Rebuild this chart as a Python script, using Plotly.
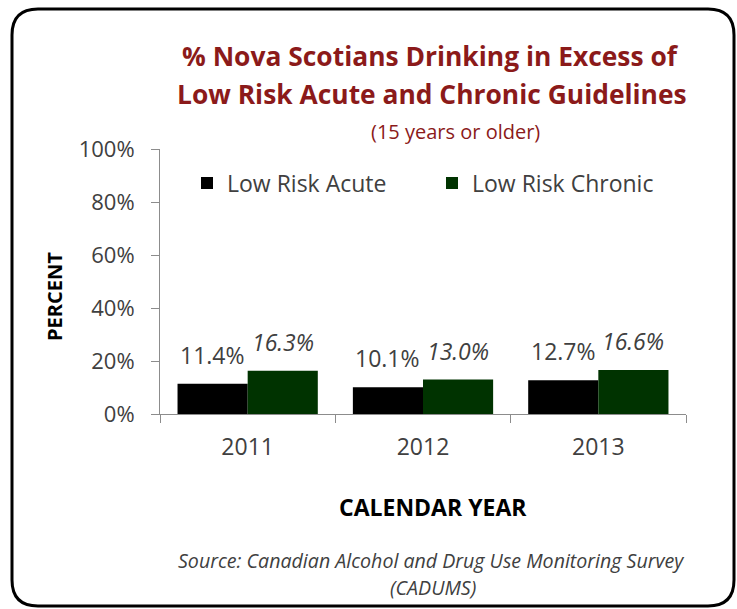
import plotly.graph_objects as go

years = ["2011", "2012", "2013"]
acute = [11.4, 10.1, 12.7]
chronic = [16.3, 13.0, 16.6]
acute_labels = ["11.4%", "10.1%", "12.7%"]
chronic_labels = ["16.3%", "13.0%", "16.6%"]
y_ticks = [0, 20, 40, 60, 80, 100]
y_tick_labels = ["0%", "20%", "40%", "60%", "80%", "100%"]

W, H = 737, 609
ML, MR, MT, MB = 160, 51, 149, 195
PW, PH = W - ML - MR, H - MT - MB

def px(x):
    return (x - ML) / PW

def py(y):
    return (H - MB - y) / PH

FONT = "Open Sans"
TXT = "#404040"
TITLE_C = "#8B1A1A"

fig = go.Figure()
fig.add_trace(go.Bar(x=years, y=acute, name="Low Risk Acute",
                     marker=dict(color="#000000", line=dict(width=0))))
fig.add_trace(go.Bar(x=years, y=chronic, name="Low Risk Chronic",
                     marker=dict(color="#003300", line=dict(width=0))))

annotations = []
for i, (a, c, al, cl) in enumerate(zip(acute, chronic, acute_labels, chronic_labels)):
    annotations.append(dict(x=i - 0.2, y=a, xref="x", yref="y", text=al, showarrow=False,
                            yanchor="bottom", yshift=11,
                            font=dict(family=FONT, size=23, color=TXT)))
    annotations.append(dict(x=i + 0.2, y=c, xref="x", yref="y", text="<i>" + cl + "</i>",
                            showarrow=False, yanchor="bottom", yshift=11,
                            font=dict(family=FONT, size=23, color=TXT)))

def label(x, y, text, size, color, **kw):
    return dict(x=px(x), y=py(y), xref="paper", yref="paper", showarrow=False,
                xanchor="center", yanchor="middle", text=text,
                font=dict(family=FONT, size=size, color=color), **kw)

annotations += [
    label(430, 56, "<b>% Nova Scotians Drinking in Excess of</b>", 26.4, TITLE_C),
    label(432, 94, "<b>Low Risk Acute and Chronic Guidelines</b>", 26.4, TITLE_C),
    label(455, 131, "(15 years or older)", 20, TITLE_C),
    label(54, 297, "<b>PERCENT</b>", 20, "#000000", textangle=-90),
    label(433, 507, "<b>CALENDAR YEAR</b>", 23, "#000000"),
    label(431, 560, "<i>Source: Canadian Alcohol and Drug Use Monitoring Survey</i>", 19.6, TXT),
    label(433, 587, "<i>(CADUMS)</i>", 19.6, TXT),
]

# rounded border
x0, x1, y0, y1, r = px(12), px(734), py(9), py(606), 26
rx, ry = r / PW, r / PH
path = (f"M {x0+rx},{y0} L {x1-rx},{y0} Q {x1},{y0} {x1},{y0-ry} "
        f"L {x1},{y1+ry} Q {x1},{y1} {x1-rx},{y1} "
        f"L {x0+rx},{y1} Q {x0},{y1} {x0},{y1+ry} "
        f"L {x0},{y0-ry} Q {x0},{y0} {x0+rx},{y0} Z")

fig.update_layout(
    width=W, height=H,
    margin=dict(l=ML, r=MR, t=MT, b=MB, pad=0),
    paper_bgcolor="white", plot_bgcolor="white",
    barmode="group", bargap=0.2, bargroupgap=0,
    showlegend=True,
    legend=dict(orientation="h", x=px(187), y=py(183), xanchor="left", yanchor="middle",
                font=dict(family=FONT, size=23, color=TXT), entrywidth=200,
                bgcolor="rgba(0,0,0,0)", itemclick=False),
    annotations=annotations,
    shapes=[dict(type="path", path=path, xref="paper", yref="paper",
                 line=dict(color="black", width=3), layer="above")],
    xaxis=dict(type="category", showline=True, linecolor="#8c8c8c", linewidth=1,
               ticks="outside", tickson="boundaries", ticklen=8, tickcolor="#8c8c8c",
               ticklabelstandoff=12,
               tickfont=dict(family=FONT, size=23, color=TXT), showgrid=False),
    yaxis=dict(range=[0, 100], tickvals=y_ticks, ticktext=y_tick_labels, showline=True,
               linecolor="#8c8c8c", linewidth=1, ticks="outside", ticklen=8,
               tickcolor="#8c8c8c", showgrid=False, zeroline=False,
               ticklabelstandoff=12,
               tickfont=dict(family=FONT, size=22, color=TXT)),
)

fig.write_html("out.html")
